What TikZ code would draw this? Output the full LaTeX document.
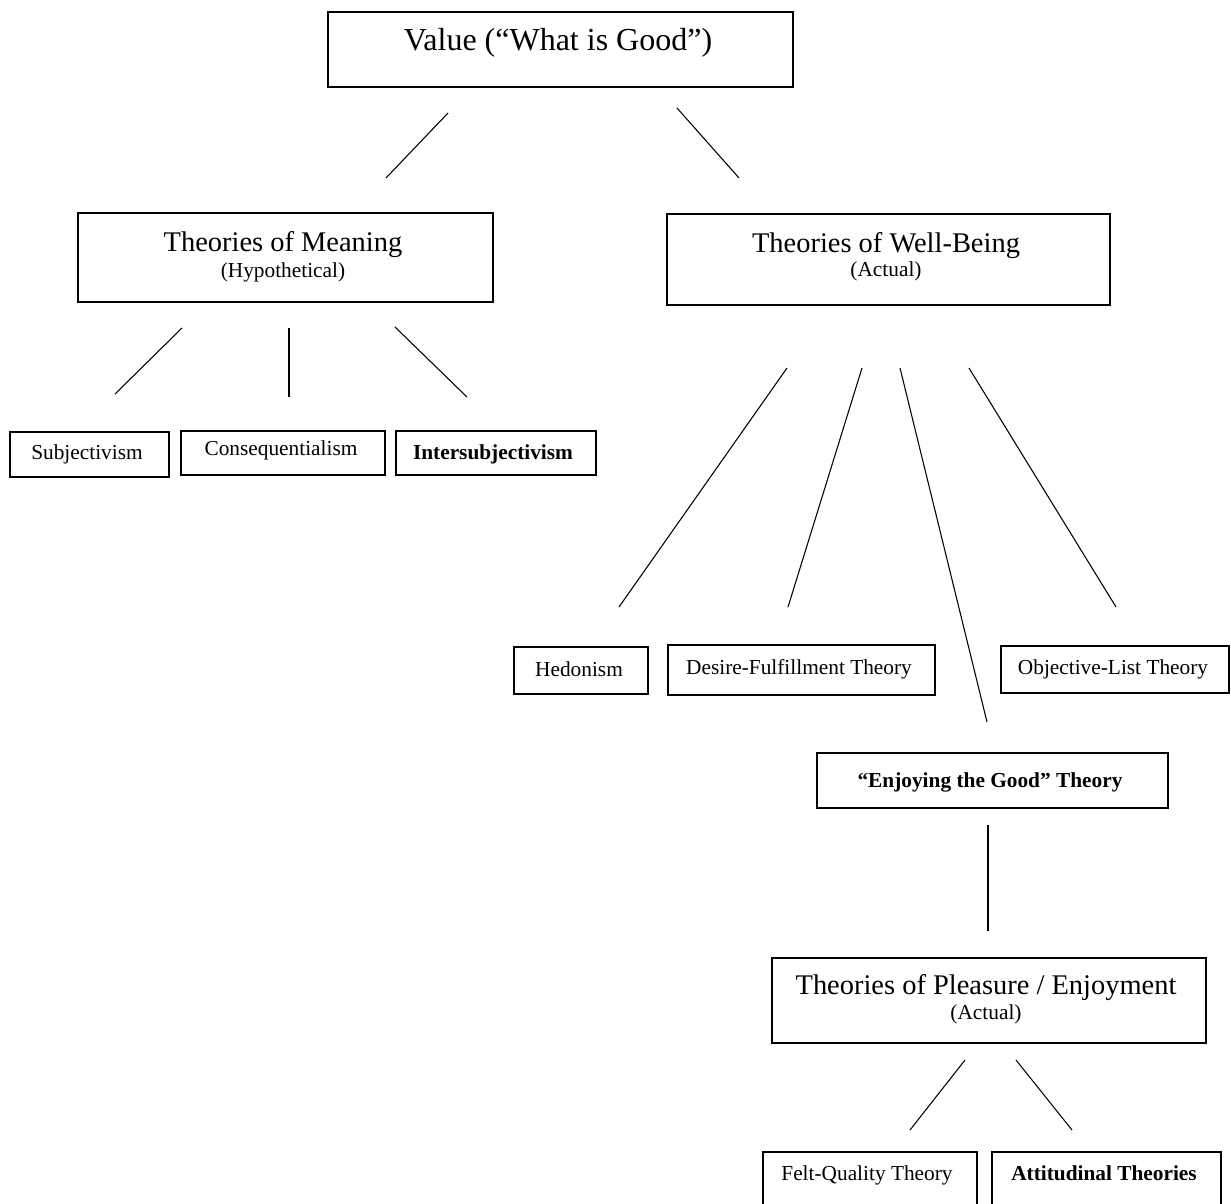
\documentclass[tikz,border=0pt]{standalone}
\usepackage{fontspec}
\setmainfont{Liberation Serif}
\usepackage{tikz}
\usetikzlibrary{fit}

\begin{document}
\begin{tikzpicture}[x=0.5625pt, y=-0.5625pt,
  box/.style={draw, line width=0.7pt, inner sep=0pt},
  link/.style={line width=0.6pt},
  big/.style={anchor=base, font=\fontsize{18}{22}\selectfont},
  mid/.style={anchor=base, font=\fontsize{16}{19}\selectfont},
  small/.style={anchor=base, font=\fontsize{12}{14}\selectfont},
  smallbold/.style={anchor=base, font=\fontsize{12}{14}\selectfont\bfseries}]
\useasboundingbox (0,0) rectangle (1231,1203);
\clip (0,0) rectangle (1231,1203);

% Top (value)
\node[box, fit={(328,12) (793,87)}] (value) {};
\node[big] (valuetxt) at (558,50) {Value (“What is Good”)};

% Second level
\node[box, fit={(78,213) (493,302)}] (meaning) {};
\node[mid] (meaningtxt) at (283,251) {Theories of Meaning};
\node[small] (meaningsub) at (283,277) {(Hypothetical)};

\node[box, fit={(667,214) (1110,305)}] (wellbeing) {};
\node[mid] (wellbeingtxt) at (886,252) {Theories of Well-Being};
\node[small] (wellbeingsub) at (886,276) {(Actual)};

% Meaning children
\node[box, fit={(10,432) (169,477)}] (subj) {};
\node[small] (subjtxt) at (87,459) {Subjectivism};
\node[box, fit={(181,431) (385,475)}] (cons) {};
\node[small] (constxt) at (281,455) {Consequentialism};
\node[box, fit={(396,431) (596,475)}] (inter) {};
\node[smallbold] (intertxt) at (493,459) {Intersubjectivism};

% Well-being children
\node[box, fit={(514,647) (648,694)}] (hedon) {};
\node[small] (hedontxt) at (579,676) {Hedonism};
\node[box, fit={(668,645) (935,695)}] (desire) {};
\node[small] (desiretxt) at (799,674) {Desire-Fulfillment Theory};
\node[box, fit={(1001,646) (1229,693)}] (objlist) {};
\node[small] (objlisttxt) at (1113,674) {Objective-List Theory};

\node[box, fit={(817,753) (1168,808)}] (enjoy) {};
\node[smallbold] (enjoytxt) at (990,787) {“Enjoying the Good” Theory};

% Pleasure / enjoyment
\node[box, fit={(772,958) (1206,1043)}] (pleasure) {};
\node[mid] (pleasuretxt) at (986,994) {Theories of Pleasure / Enjoyment};
\node[small] (pleasuresub) at (986,1019) {(Actual)};

\node[box, fit={(763,1152) (977,1220)}] (felt) {};
\node[small] (felttxt) at (867,1180) {Felt-Quality Theory};
\node[box, fit={(992,1152) (1221,1220)}] (attit) {};
\node[smallbold] (attittxt) at (1104,1180) {Attitudinal Theories};

% Free-standing links
\coordinate (valueL) at (448,113);   \coordinate (meaningT) at (386,178);
\coordinate (valueR) at (677,108);   \coordinate (wellbeingT) at (739,178);
\draw[link] (valueL) -- (meaningT);
\draw[link] (valueR) -- (wellbeingT);

\coordinate (meaningA) at (182,328); \coordinate (subjT) at (115,394);
\coordinate (meaningB) at (289,328); \coordinate (consT) at (289,397);
\coordinate (meaningC) at (395,327); \coordinate (interT) at (467,397);
\draw[link] (meaningA) -- (subjT);
\draw[link] (meaningB) -- (consT);
\draw[link] (meaningC) -- (interT);

\coordinate (wellA) at (787,368); \coordinate (hedonT) at (619,607);
\coordinate (wellB) at (862,368); \coordinate (desireT) at (788,607);
\coordinate (wellC) at (900,368); \coordinate (enjoyT) at (987,722);
\coordinate (wellD) at (969,368); \coordinate (objlistT) at (1116,607);
\draw[link] (wellA) -- (hedonT);
\draw[link] (wellB) -- (desireT);
\draw[link] (wellC) -- (enjoyT);
\draw[link] (wellD) -- (objlistT);

\coordinate (enjoyB) at (988,825); \coordinate (pleasureT) at (988,931);
\draw[link] (enjoyB) -- (pleasureT);

\coordinate (pleasureA) at (965,1060); \coordinate (feltT) at (910,1130);
\coordinate (pleasureB) at (1016,1060); \coordinate (attitT) at (1072,1130);
\draw[link] (pleasureA) -- (feltT);
\draw[link] (pleasureB) -- (attitT);
\end{tikzpicture}
\end{document}
